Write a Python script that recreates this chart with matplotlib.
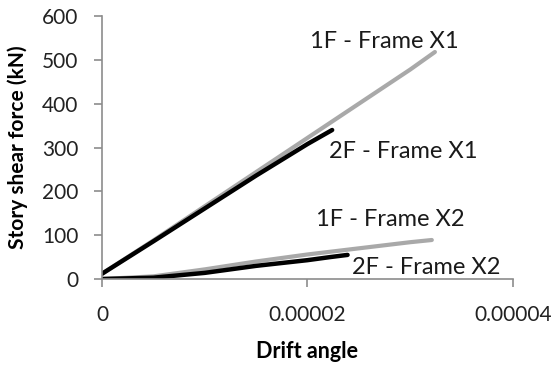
import matplotlib
matplotlib.use('Agg')
import matplotlib.pyplot as plt

# ── Data: drift angle vs story shear force (kN) ──────────────────────────
x_1f_x1 = [0, 0.5e-5, 1.0e-5, 1.5e-5, 2.0e-5, 2.5e-5, 3.0e-5, 3.24e-5]
y_1f_x1 = [12, 88, 166, 244, 322, 400, 478, 518]

x_2f_x1 = [0, 0.5e-5, 1.0e-5, 1.5e-5, 2.0e-5, 2.24e-5]
y_2f_x1 = [12, 86, 161, 236, 308, 340]

x_1f_x2 = [0, 0.5e-5, 1.0e-5, 1.5e-5, 2.0e-5, 2.5e-5, 3.0e-5, 3.21e-5]
y_1f_x2 = [0, 6, 22, 40, 56, 70, 84, 89]

x_2f_x2 = [0, 0.5e-5, 1.0e-5, 1.5e-5, 1.73e-5, 2.0e-5, 2.22e-5, 2.39e-5]
y_2f_x2 = [0, 3, 14, 30, 36, 43, 50, 55]

series_labels = ['1F - Frame X1', '2F - Frame X1', '1F - Frame X2', '2F - Frame X2']
label_pos = [(2.02e-5, 541), (2.21e-5, 290), (2.08e-5, 135), (2.43e-5, 27)]

x_ticks = [0, 0.00002, 0.00004]
x_tick_labels = ['0', '0.00002', '0.00004']
y_ticks = [0, 100, 200, 300, 400, 500, 600]

plt.rcParams['font.family'] = ['Lato', 'DejaVu Sans']

fig = plt.figure(figsize=(5.55, 3.65), dpi=100)
ax = fig.add_axes([0.1838, 0.2356, 0.9243 - 0.1838, 0.956 - 0.2356])

gray = '#a9a9a9'
ax.plot(x_1f_x1, y_1f_x1, color=gray, lw=3, solid_capstyle='round')
ax.plot(x_1f_x2, y_1f_x2, color=gray, lw=3, solid_capstyle='round')
ax.plot(x_2f_x1, y_2f_x1, color='black', lw=3.2, solid_capstyle='round')
ax.plot(x_2f_x2, y_2f_x2, color='black', lw=3.2, solid_capstyle='round')

# series names written next to the curves
for txt, (tx, ty) in zip(series_labels, label_pos):
    ax.text(tx, ty, txt, fontsize=17, color='#1a1a1a', va='center', ha='left')

ax.set_xlim(0, 0.00004)
ax.set_ylim(0, 600)
ax.set_xticks(x_ticks)
ax.set_xticklabels(x_tick_labels)
ax.set_yticks(y_ticks)

for side in ['top', 'right']:
    ax.spines[side].set_visible(False)
for side in ['left', 'bottom']:
    ax.spines[side].set_color('#8c8c8c')
    ax.spines[side].set_linewidth(1.2)

ax.tick_params(axis='x', length=6, width=1.2, color='#8c8c8c', pad=13,
               labelsize=15, labelcolor='#222222')
ax.tick_params(axis='y', length=6, width=1.2, color='#8c8c8c', pad=11,
               labelsize=15, labelcolor='#222222')

ax.set_xlabel('Drift angle', fontsize=15.5, fontweight='bold', labelpad=11)
ax.set_ylabel('Story shear force (kN)', fontsize=15, fontweight='bold', labelpad=10)

fig.savefig('out.png', dpi=100)
